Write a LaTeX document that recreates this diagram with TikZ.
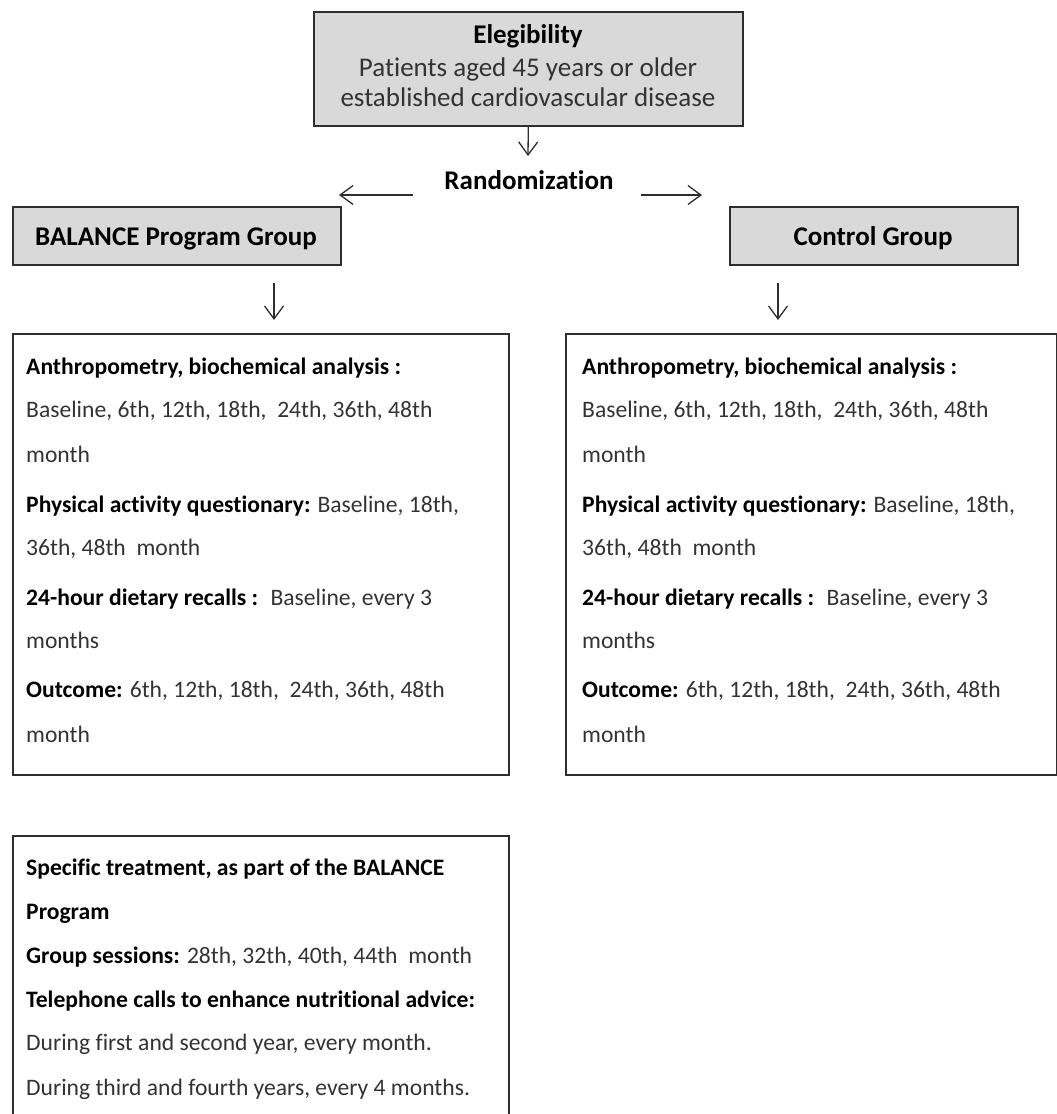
\documentclass[tikz,border=0pt]{standalone}
\usepackage{fontspec}
\setmainfont{Carlito}[Ligatures={NoCommon}]
\usetikzlibrary{arrows.meta}
\definecolor{boxgray}{HTML}{D9D9D9}
\definecolor{linegray}{HTML}{2E2E2E}
\definecolor{txtgray}{HTML}{333333}
\tikzset{
  graybox/.style={draw=linegray,line width=1.6pt,fill=boxgray,inner sep=0pt,anchor=north west},
  whitebox/.style={draw=linegray,line width=1.6pt,fill=white,inner sep=0pt,anchor=north west},
  txtline/.style={inner sep=0pt,anchor=base west,font=\fontsize{23.6}{28}\selectfont,text=txtgray},
  ctrline/.style={inner sep=0pt,anchor=base,font=\fontsize{27}{32}\selectfont,text=txtgray},
  flowarrow/.style={draw=linegray,line width=1.3pt,-{Straight Barb[length=13pt,width=19pt,line width=1.3pt]}},
}
\newcommand{\bk}[1]{\textcolor{black}{\bfseries #1}}
\newcommand{\schedbox}[2]{%
  \node[txtline] (#1a) at (#2,374) {\bk{Anthropometry, biochemical analysis :}};
  \node[txtline] (#1b) at (#2,417) {Baseline, 6th, 12th, 18th, \ 24th, 36th, 48th};
  \node[txtline] (#1c) at (#2,462) {month};
  \node[txtline] (#1d) at (#2,512) {\bk{Physical activity questionary:} Baseline, 18th,};
  \node[txtline] (#1e) at (#2,555) {36th, 48th \ month};
  \node[txtline] (#1f) at (#2,605) {\bk{24-hour dietary recalls :} \ Baseline, every 3};
  \node[txtline] (#1g) at (#2,648) {months};
  \node[txtline] (#1h) at (#2,697) {\bk{Outcome:} 6th, 12th, 18th, \ 24th, 36th, 48th};
  \node[txtline] (#1i) at (#2,742) {month};
}
\begin{document}
\begin{tikzpicture}[x=1pt,y=-1pt]
\useasboundingbox (0,0) rectangle (1057,1114);
\clip (0,0) rectangle (1057,1114);
% top box
\node[graybox,minimum width=429pt,minimum height=114pt] (elig) at (313,11) {};
\node[ctrline] (eligA) at (528,43) {\bk{Elegibility}};
\node[ctrline] (eligB) at (528,76) {Patients aged 45 years or older};
\node[ctrline] (eligC) at (528,106) {established cardiovascular disease};
% randomization
\node[ctrline] (rand) at (529,189) {\bk{Randomization}};
\coordinate (eligTip) at (528,156);
\coordinate (randL) at (413,195);
\coordinate (randR) at (641,195);
\coordinate (tipL) at (339,195);
\coordinate (tipR) at (702,195);
% group boxes
\node[graybox,minimum width=328pt,minimum height=58pt] (bal) at (12,206) {};
\node[ctrline] (balT) at (176,245) {\bk{BALANCE Program Group}};
\node[graybox,minimum width=288pt,minimum height=58pt] (ctl) at (729,206) {};
\node[ctrline] (ctlT) at (873,245) {\bk{Control Group}};
\coordinate (balA) at (274,283);
\coordinate (balB) at (274,320);
\coordinate (ctlA) at (778,283);
\coordinate (ctlB) at (778,320);
% big boxes
\node[whitebox,minimum width=496pt,minimum height=441pt] (lbox) at (12,333) {};
\node[whitebox,minimum width=491pt,minimum height=441pt] (rbox) at (565,333) {};
\schedbox{l}{26}
\schedbox{r}{582}
% bottom box
\node[whitebox,minimum width=496pt,minimum height=300pt] (sbox) at (12,835) {};
\node[txtline] (s1) at (26,875) {\bk{Specific treatment, as part of the BALANCE}};
\node[txtline] (s2) at (26,919) {\bk{Program}};
\node[txtline] (s3) at (26,963) {\bk{Group sessions:} 28th, 32th, 40th, 44th \ month};
\node[txtline] (s4) at (26,1007) {\bk{Telephone calls to enhance nutritional advice:}};
\node[txtline] (s5) at (26,1050) {During first and second year, every month.};
\node[txtline] (s6) at (26,1095) {During third and fourth years, every 4 months.};
% arrows
\draw[flowarrow] (elig.south) -- (eligTip);
\draw[flowarrow] (randL) -- (tipL);
\draw[flowarrow] (randR) -- (tipR);
\draw[flowarrow] (balA) -- (balB);
\draw[flowarrow] (ctlA) -- (ctlB);
\end{tikzpicture}
\end{document}
